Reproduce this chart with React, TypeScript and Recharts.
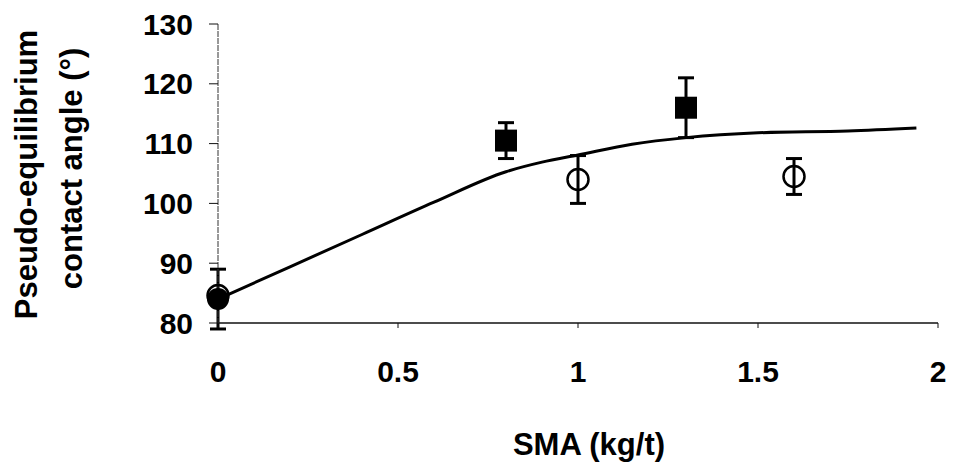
import { ComposedChart, Line, Scatter, ErrorBar, XAxis, YAxis, Label } from 'recharts';

// fitted curve
const curveX = [0, 0.2, 0.4, 0.6, 0.8, 0.9, 1.0, 1.15, 1.3, 1.5, 1.75, 1.94];
const curveY = [84, 89.4, 94.8, 100.2, 105.3, 106.9, 108.1, 109.9, 111, 111.8, 112.1, 112.6];

// filled markers (squares), with error bars
const filledX = [0.8, 1.3];
const filledY = [110.5, 116];
const filledErr = [3, 5];

// filled circle at zero
const zeroX = [0];
const zeroY = [84];
const zeroErr = [5];

// open circles
const openX = [0, 1, 1.6];
const openY = [84.6, 104, 104.5];
const openErr = [0, 4, 3];

const xTicks = [0, 0.5, 1, 1.5, 2];
const yTicks = [80, 90, 100, 110, 120, 130];

const FONT = '"Liberation Sans", Arial, Helvetica, sans-serif';

const curve = curveX.map((x, i) => ({ x, y: curveY[i] }));
const filled = filledX.map((x, i) => ({ x, y: filledY[i], err: filledErr[i] }));
const zero = zeroX.map((x, i) => ({ x, y: zeroY[i], err: zeroErr[i] }));
const open = openX.map((x, i) => ({ x, y: openY[i], err: openErr[i] }));

const Square = (p: any) => <rect x={p.cx - 11} y={p.cy - 11} width={22} height={22} fill="#000" />;
const Dot = (p: any) => <circle cx={p.cx} cy={p.cy} r={11} fill="#000" />;
const Ring = (p: any) => <circle cx={p.cx} cy={p.cy} r={10.5} fill="none" stroke="#000" strokeWidth={2.5} />;

const YTitle = (props: any) => {
  const vb = props.viewBox;
  const cy = vb.y + vb.height / 2;
  const style = { fontFamily: FONT, fontWeight: 700, fontSize: 31, fill: '#000' };
  return (
    <g>
      <text x={37} y={cy + 1} transform={`rotate(-90 37 ${cy + 1})`} textAnchor="middle" style={style}>
        Pseudo-equilibrium
      </text>
      <text x={82} y={cy - 5} transform={`rotate(-90 82 ${cy - 5})`} textAnchor="middle" style={style}>
        contact angle (°)
      </text>
    </g>
  );
};

export default function App() {
  const tickStyle = { fontFamily: FONT, fontWeight: 700, fontSize: 30, fill: '#000' };
  return (
    <div style={{ position: 'absolute', left: 0, top: 0, width: 953, height: 472, background: '#fff' }}>
      <ComposedChart width={953} height={472} margin={{ top: 24, right: 15, bottom: 89, left: 0 }}>
        <XAxis
          type="number"
          dataKey="x"
          domain={[0, 2]}
          ticks={xTicks}
          height={60}
          tickSize={5}
          tickMargin={33}
          tick={tickStyle}
          axisLine={{ stroke: '#111', strokeWidth: 1.5 }}
          tickLine={{ stroke: '#111' }}
        >
          <Label
            value="SMA (kg/t)"
            position="bottom"
            offset={50}
            dx={11}
            style={{ fontFamily: FONT, fontWeight: 700, fontSize: 31, fill: '#000' }}
          />
        </XAxis>
        <YAxis
          type="number"
          dataKey="y"
          domain={[80, 130]}
          ticks={yTicks}
          allowDataOverflow
          width={218}
          tickSize={9}
          tickMargin={16}
          tick={tickStyle}
          axisLine={{ stroke: '#333', strokeWidth: 1, strokeDasharray: '6 1' }}
          tickLine={{ stroke: '#111' }}
          label={{ content: YTitle }}
        />
        <Line
          data={curve}
          dataKey="y"
          type="monotone"
          stroke="#000"
          strokeWidth={3}
          dot={false}
          activeDot={false}
          isAnimationActive={false}
        />
        <Scatter data={filled} dataKey="y" shape={Square} isAnimationActive={false}>
          <ErrorBar dataKey="err" direction="y" width={8} stroke="#000" strokeWidth={3} />
        </Scatter>
        <Scatter data={zero} dataKey="y" shape={Dot} isAnimationActive={false}>
          <ErrorBar dataKey="err" direction="y" width={8} stroke="#000" strokeWidth={3} />
        </Scatter>
        <Scatter data={open} dataKey="y" shape={Ring} isAnimationActive={false}>
          <ErrorBar dataKey="err" direction="y" width={8} stroke="#000" strokeWidth={3} />
        </Scatter>
      </ComposedChart>
    </div>
  );
}
